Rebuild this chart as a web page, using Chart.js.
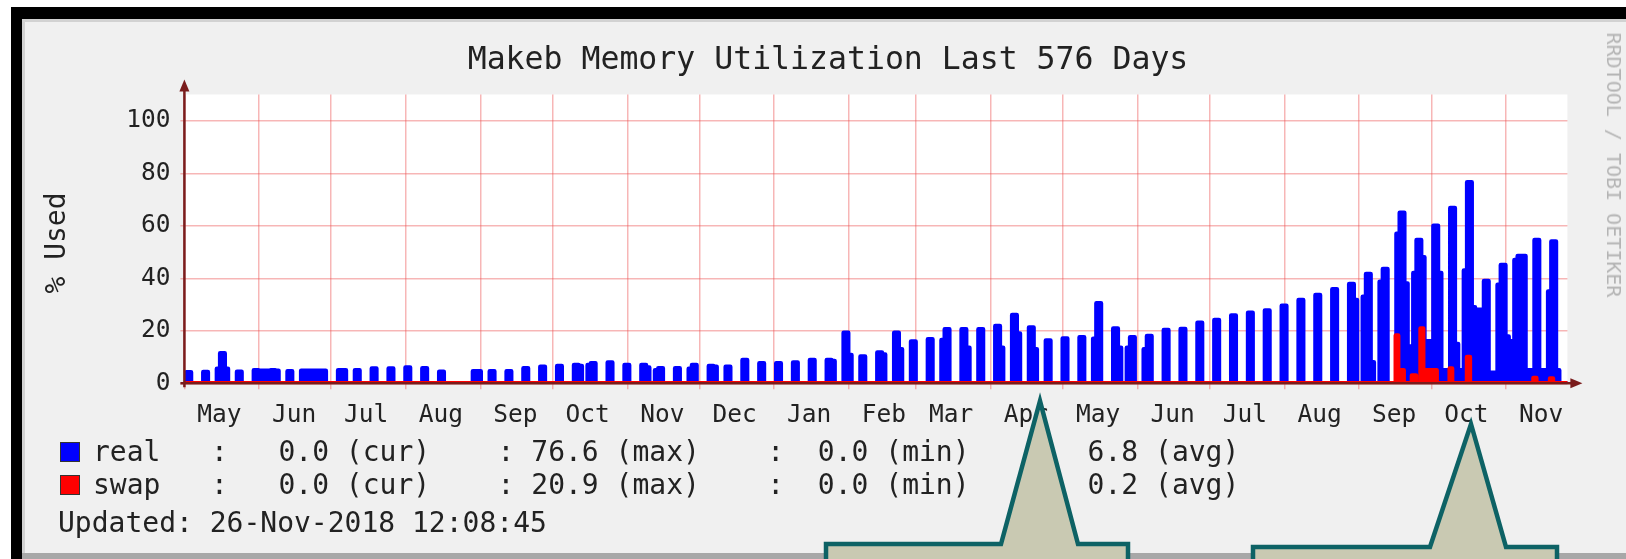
<!DOCTYPE html>
<html>
<head>
<meta charset="utf-8">
<title>Makeb Memory Utilization</title>
<script src="https://cdn.jsdelivr.net/npm/chart.js@4.4.1/dist/chart.umd.min.js"></script>
<style>
  html, body { margin: 0; padding: 0; background: #fff; overflow: hidden; }
  #wrap { position: relative; width: 1626px; height: 559px; font-family: 'DejaVu Sans Mono', monospace; color: #222; }
  .frame-top { position: absolute; left: 11px; top: 7px; width: 1615px; height: 12px; background: #000; }
  .frame-left { position: absolute; left: 11px; top: 7px; width: 11px; height: 552px; background: #000; }
  .panel { position: absolute; left: 22px; top: 19px; width: 1604px; height: 540px; background: #f0f0f0;
           box-shadow: inset 0 3px 0 #d2d2d2, inset 3px 0 0 #d2d2d2; }
  .panel-bottom { position: absolute; left: 22px; top: 553px; width: 1604px; height: 6px; background: #a8a8a8; }
  canvas { position: absolute; left: 0; top: 0; }
  .txt { position: absolute; white-space: pre; line-height: 1; }
  .swatch { position: absolute; width: 18px; height: 18px; border: 1px solid #333; }
  #notes { position: absolute; left: 0; top: 0; }
</style>
</head>
<body>
<div id="wrap">
  <div class="panel"></div>
  <div class="panel-bottom"></div>
  <div class="frame-top"></div>
  <div class="frame-left"></div>
  <canvas id="memChart" width="1626" height="559"></canvas>

  <div class="txt" id="title" style="left:828px; top:43px; font-size:31.5px; transform:translateX(-50%);">Makeb Memory Utilization Last 576 Days</div>
  <div class="txt" id="unit" style="left:56px; top:243px; font-size:28px; transform:translate(-50%,-50%) rotate(-90deg);">% Used</div>
  <div class="txt" id="mark" style="left:1614px; top:165px; font-size:20px; color:#b4b4b4; transform:translate(-50%,-50%) rotate(90deg);">RRDTOOL / TOBI OETIKER</div>

  <div class="swatch" style="left:60px; top:442px; background:#0000ff;"></div>
  <div class="txt" id="legReal" style="left:93px; top:438px; font-size:28px;"></div>
  <div class="swatch" style="left:60px; top:475px; background:#ff0000;"></div>
  <div class="txt" id="legSwap" style="left:93px; top:471px; font-size:28px;"></div>
  <div class="txt" id="updated" style="left:58px; top:509px; font-size:28px;"></div>

  <svg id="notes" width="1626" height="559">
    <path d="M826,580 V544 H1001 L1040,401 L1078,544 H1128 V580" fill="#c9c9b2" stroke="#0d6265" stroke-width="4.5" stroke-miterlimit="12"/>
    <path d="M1253,580 V547 H1430 L1471,424 L1506,547 H1557 V580" fill="#c9c9b2" stroke="#0d6265" stroke-width="4.5" stroke-miterlimit="12"/>
  </svg>
</div>

<script>
// x axis is in days counted from 1 May 2017
const END_DAY = 574.5;
const monthLabel = ['May', 'Jun', 'Jul', 'Aug', 'Sep', 'Oct', 'Nov', 'Dec', 'Jan', 'Feb',
                    'Mar', 'Apr', 'May', 'Jun', 'Jul', 'Aug', 'Sep', 'Oct', 'Nov'];
const monthStartDay = [0, 31, 61, 92, 123, 153, 184, 214, 245, 276,
                       304, 335, 365, 396, 426, 457, 488, 518, 549];
const yTickValues = [0, 10, 20, 30, 40, 50, 60, 70, 80, 90, 100];

// real memory: one spike per week
const FIRST_SPIKE_DAY = 1.8;
const weekPeak = [
  4.2, 4.3, 11.4, 4.4, 5.0, 5.0, 4.6, 4.8, 4.8, 5.0,
  5.0, 5.6, 5.6, 6.0, 5.7, 4.4, 0, 4.6, 4.6, 4.6,
  5.7, 6.3, 6.6, 7.0, 7.6, 7.9, 7.0, 7.0, 5.7, 5.7,
  7.0, 6.6, 6.3, 8.9, 7.6, 7.6, 7.9, 8.9, 8.9, 19.3,
  10.2, 11.7, 19.3, 15.9, 16.8, 20.6, 20.6, 20.6, 21.8, 26.0,
  21.3, 16.3, 17.1, 17.5, 30.5, 20.9, 17.5, 18.0, 20.3, 20.7,
  23.1, 24.1, 25.8, 26.9, 27.7, 29.5, 31.7, 33.6, 35.8, 37.8,
  41.6, 43.5, 65.0, 54.6, 60.0, 66.8, 76.6, 39.0, 45.1, 48.5,
  54.6, 54.0
];
// level just before the spike
const weekLeft = [
  0, 0, 5.5, 0, 0, 0, 0, 4.8, 0, 0,
  0, 0, 0, 0, 0, 0, 0, 0, 0, 0,
  0, 0, 0, 0, 7.0, 0, 0, 0, 5.0, 0,
  5.5, 0, 0, 0, 0, 0, 0, 0, 0, 0,
  0, 0, 0, 0, 0, 16.5, 0, 0, 0, 0,
  0, 0, 0, 0, 17.0, 0, 13.5, 13.0, 0, 0,
  0, 0, 0, 0, 0, 0, 0, 0, 0, 0,
  33.0, 38.7, 57.0, 42.0, 0, 0, 43.0, 0, 37.5, 47.0,
  0, 35.0
];
// level just after the spike
const weekRight = [
  0, 0, 5.5, 0, 0, 4.8, 0, 0, 0, 5.0,
  0, 0, 0, 0, 0, 0, 0, 4.6, 0, 0,
  0, 0, 0, 6.6, 0, 0, 0, 6.0, 0, 0,
  0, 6.3, 0, 0, 0, 0, 0, 0, 8.5, 10.8,
  0, 11.0, 13.0, 0, 0, 0, 13.5, 0, 13.5, 19.0,
  13.0, 0, 0, 0, 0, 13.5, 0, 0, 0, 0,
  0, 0, 0, 0, 0, 0, 0, 0, 0, 31.7,
  8.0, 0, 38.0, 48.0, 42.0, 15.0, 29.0, 0, 17.8, 48.5,
  0, 5.0
];
// level for the rest of the week
const weekRest = [
  0, 0, 0, 0, 4.8, 0, 0, 4.8, 0, 0,
  0, 0, 0, 0, 0, 0, 0, 0, 0, 0,
  0, 0, 0, 0, 0, 0, 0, 0, 0, 0,
  0, 0, 0, 0, 0, 0, 0, 0, 0, 0,
  0, 0, 0, 0, 0, 0, 0, 0, 0, 0,
  0, 0, 0, 0, 0, 0, 0, 0, 0, 0,
  0, 0, 0, 0, 0, 0, 0, 0, 0, 0,
  0, 0, 14.0, 16.0, 5.0, 5.0, 28.0, 4.0, 16.0, 5.0,
  5.0, 0
];

// swap: change points (day, %)
const swapDay = [0, 503.2, 504.2, 506.5, 509.9, 511.6, 513.5, 514.6, 520.2,
                 525.6, 526.6, 532.8, 534.0, 560.4, 561.6, 567.3, 568.5, END_DAY];
const swapPct = [0, 18.2, 5.0, 0, 3.0, 0, 20.9, 5.0, 0,
                 5.6, 0, 10.0, 0, 2.0, 0, 1.8, 0, 0];

const realStats = [0.0, 76.6, 0.0, 6.8];
const swapStats = [0.0, 20.9, 0.0, 0.2];
const updatedAt = '26-Nov-2018 12:08:45';

function ready(fn) {
  if (document.readyState !== 'loading') {
    fn();
  } else {
    document.addEventListener('DOMContentLoaded', fn);
  }
}

ready(function () {
  fillLegend();
  memoryChart();
});

function legendLine(name, s) {
  const f = v => v.toFixed(1).padStart(5);
  return name.padEnd(7) + ': ' + f(s[0]) + ' (cur)    :' + f(s[1]) + ' (max)    :' +
    f(s[2]) + ' (min)    :' + f(s[3]) + ' (avg)';
}

function fillLegend() {
  document.getElementById('legReal').textContent = legendLine('real', realStats);
  document.getElementById('legSwap').textContent = legendLine('swap', swapStats);
  document.getElementById('updated').textContent = 'Updated: ' + updatedAt;
}

function weeklyPoints() {
  const half = 0.95;   // half width of a spike, days
  const pts = [{x: 0, y: 0}];
  weekPeak.forEach(function (peak, k) {
    const c = FIRST_SPIKE_DAY + 7 * k;
    if (weekLeft[k]) pts.push({x: c - 2.3, y: weekLeft[k]});
    pts.push({x: c - half, y: peak});
    if (weekRight[k]) {
      pts.push({x: c + half, y: weekRight[k]});
      pts.push({x: c + 2.3, y: weekRest[k]});
    } else {
      pts.push({x: c + half, y: weekRest[k]});
    }
  });
  pts.push({x: END_DAY, y: 0});
  return pts;
}

function memoryChart() {
  const ctx = document.getElementById('memChart').getContext('2d');
  const MONO = 'DejaVu Sans Mono';
  const majorGrid = 'rgba(235, 80, 80, 0.42)';
  const minorGrid = 'rgba(150, 150, 150, 0.3)';

  // white plot area, then rrdtool style axes with arrows on top of the data
  const rrdAxes = {
    id: 'rrdAxes',
    beforeDraw(chart) {
      const a = chart.chartArea;
      chart.ctx.save();
      chart.ctx.fillStyle = '#ffffff';
      chart.ctx.fillRect(a.left, a.top, a.right - a.left, a.bottom - a.top);
      chart.ctx.restore();
    },
    afterDatasetsDraw(chart) {
      const c = chart.ctx;
      const a = chart.chartArea;
      c.save();
      c.strokeStyle = '#7a1c1c';
      c.fillStyle = '#7a1c1c';
      c.lineWidth = 2.5;
      c.beginPath();
      c.moveTo(a.left - 4, a.bottom);
      c.lineTo(a.right + 6, a.bottom);
      c.moveTo(a.left, a.bottom + 4);
      c.lineTo(a.left, a.top - 6);
      c.stroke();
      c.beginPath();
      c.moveTo(a.right + 15, a.bottom);
      c.lineTo(a.right + 3, a.bottom - 5);
      c.lineTo(a.right + 3, a.bottom + 5);
      c.closePath();
      c.fill();
      c.beginPath();
      c.moveTo(a.left, a.top - 15);
      c.lineTo(a.left - 5, a.top - 3);
      c.lineTo(a.left + 5, a.top - 3);
      c.closePath();
      c.fill();
      c.restore();
    }
  };

  const data = {
    datasets: [
      {
        label: 'real',
        data: weeklyPoints(),
        borderColor: '#0000ff',
        backgroundColor: '#0000ff',
        borderWidth: 4.5,
        stepped: true,
        pointRadius: 0,
        fill: 'origin',
        borderJoinStyle: 'round',
        borderCapStyle: 'round',
        order: 1
      },
      {
        label: 'swap',
        data: swapDay.map((d, i) => ({x: d, y: swapPct[i]})),
        borderColor: '#ff0000',
        backgroundColor: '#ff0000',
        borderWidth: 4.5,
        stepped: true,
        pointRadius: 0,
        fill: 'origin',
        borderJoinStyle: 'round',
        borderCapStyle: 'round',
        order: 0
      }
    ]
  };

  const config = {
    type: 'line',
    data: data,
    plugins: [rrdAxes],
    options: {
      responsive: false,
      animation: false,
      layout: {
        padding: { left: 100, top: 94.5, right: 58.6, bottom: 0 }
      },
      plugins: {
        legend: { display: false },
        tooltip: { enabled: false }
      },
      scales: {
        x: {
          type: 'linear',
          min: 0,
          max: END_DAY,
          afterBuildTicks: s => { s.ticks = monthStartDay.map(v => ({value: v})); },
          afterFit: s => { s.height = 175.7; },
          border: { display: false },
          grid: { color: majorGrid, lineWidth: 1.5, tickLength: 6 },
          ticks: {
            callback: (v, i) => monthLabel[i],
            labelOffset: 35,
            autoSkip: false,
            maxRotation: 0,
            padding: 12,
            color: '#222',
            font: { family: MONO, size: 24.5 }
          }
        },
        y: {
          min: 0,
          max: 110,
          afterBuildTicks: s => { s.ticks = yTickValues.map(v => ({value: v})); },
          afterFit: s => { s.width = 84.4; },
          border: { display: false },
          grid: {
            color: c => (c.tick && c.tick.value % 20 === 0) ? majorGrid : minorGrid,
            lineWidth: 1.5,
            tickLength: 4
          },
          ticks: {
            callback: v => (v % 20 === 0 ? String(v) : ''),
            padding: 10,
            color: '#222',
            font: { family: MONO, size: 24.5 }
          }
        }
      }
    }
  };
  const memChart = new Chart(ctx, config);
}
</script>
</body>
</html>
